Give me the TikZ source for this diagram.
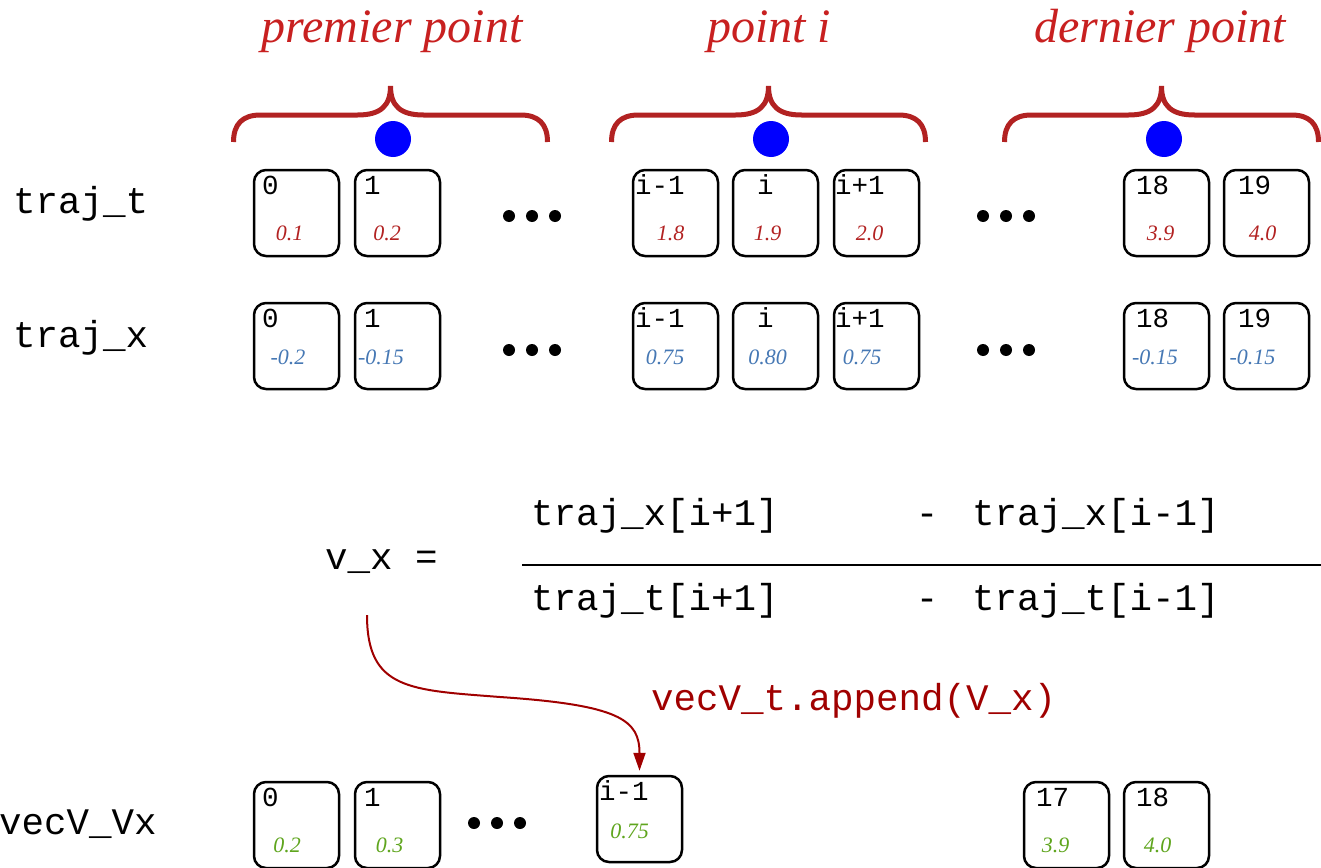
\documentclass[tikz,border=0pt]{standalone}
\usepackage{fontspec}
\setmainfont{Liberation Serif}
\setmonofont{Liberation Mono}
\usetikzlibrary{arrows.meta}
\definecolor{titlered}{RGB}{200,32,32}
\definecolor{bracered}{RGB}{178,34,34}
\definecolor{valred}{RGB}{178,34,34}
\definecolor{valblue}{RGB}{70,120,180}
\definecolor{valgreen}{RGB}{95,165,30}
\definecolor{arrowred}{RGB}{160,0,0}
\tikzset{
  cellbox/.style={draw, line width=2.5pt, rounded corners=12pt, minimum width=85pt, minimum height=86pt, inner sep=0pt},
  idxtext/.style={font=\fontsize{27.5}{28}\selectfont\ttfamily, anchor=base west, inner sep=0pt},
  valtext/.style={font=\fontsize{22}{22}\selectfont\itshape, anchor=base, inner sep=0pt},
  codetext/.style={font=\fontsize{37.5}{38}\selectfont\ttfamily, anchor=base west, inner sep=0pt},
  titletext/.style={font=\fontsize{48}{48}\selectfont\itshape, text=titlered, anchor=base, inner sep=0pt},
  bracestyle/.style={draw=bracered, line width=5pt},
  bluedot/.style={circle, fill=blue, minimum size=36pt, inner sep=0pt},
  ellipsisdot/.style={circle, fill=black, minimum size=12pt, inner sep=0pt},
}
% #1 name, #2 left, #3 top, #4 index, #5 index x, #6 value, #7 value centre x, #8 value baseline, #9 colour
\newcommand\mycell[9]{%
  \node[cellbox] (#1) at (#2+42.5,#3+43) {};
  \node[idxtext] (#1-i) at (#5+2,#3+24) {#4};
  \node[valtext,text=#9] (#1-v) at (#7,#8) {#6};
}
\newcommand\mybrace[1]{%
  \draw[bracestyle] (#1-157,142) .. controls (#1-157,124) and (#1-148,115) .. (#1-130,115)
    -- (#1-33,115) .. controls (#1-10,115) and (#1,106) .. (#1,86)
    .. controls (#1,106) and (#1+10,115) .. (#1+33,115)
    -- (#1+130,115) .. controls (#1+148,115) and (#1+157,124) .. (#1+157,142);
}
\newcommand\mydots[4]{% name, x1, y, spacing
  \node[ellipsisdot] (#1a) at (#2,#3) {};
  \node[ellipsisdot] (#1b) at (#2+#4,#3) {};
  \node[ellipsisdot] (#1c) at (#2+2*#4,#3) {};
}
\begin{document}
\begin{tikzpicture}[x=1pt,y=-1pt]
\useasboundingbox (0,0) rectangle (1321,867);

% titles
\node[titletext] (t1) at (392,43) {premier point};
\node[titletext] (t2) at (769,43) {point i};
\node[titletext] (t3) at (1160,43) {dernier point};

% braces and dots
\mybrace{390.5}
\mybrace{768.5}
\mybrace{1161.5}
\node[bluedot] (b1) at (393,139) {};
\node[bluedot] (b2) at (771,139) {};
\node[bluedot] (b3) at (1164,139) {};

% left labels
\node[codetext] (lt) at (13,213) {traj\_t};
\node[codetext] (lx) at (13,347) {traj\_x};
\node[codetext] (lv) at (-1,834) {vecV\_Vx};

% row traj_t
\mycell{a1}{254}{170}{0}{260}{0.1}{289.5}{240}{valred}
\mycell{a2}{355}{170}{1}{362}{0.2}{387}{240}{valred}
\mycell{a3}{633}{170}{i-1}{633}{1.8}{670.5}{240}{valred}
\mycell{a4}{733}{170}{i}{755}{1.9}{767.5}{240}{valred}
\mycell{a5}{834}{170}{i+1}{833}{2.0}{869.5}{240}{valred}
\mycell{a6}{1124}{170}{18}{1134}{3.9}{1160.5}{240}{valred}
\mycell{a7}{1224}{170}{19}{1236}{4.0}{1262.5}{240}{valred}
\mydots{da}{509}{216}{23}
\mydots{db}{983}{216}{23}

% row traj_x
\mycell{x1}{254}{303}{0}{260}{-0.2}{288}{364}{valblue}
\mycell{x2}{355}{303}{1}{362}{-0.15}{381}{364}{valblue}
\mycell{x3}{633}{303}{i-1}{633}{0.75}{665}{364}{valblue}
\mycell{x4}{733}{303}{i}{755}{0.80}{767.5}{364}{valblue}
\mycell{x5}{834}{303}{i+1}{833}{0.75}{862}{364}{valblue}
\mycell{x6}{1124}{303}{18}{1134}{-0.15}{1155}{364}{valblue}
\mycell{x7}{1224}{303}{19}{1236}{-0.15}{1252.5}{364}{valblue}
\mydots{dc}{509}{350}{23}
\mydots{dd}{983}{350}{23}

% formula
\node[codetext] (vx) at (325,569) {v\_x =};
\node[codetext] (n1) at (531,525) {traj\_x[i+1]};
\node[codetext, anchor=base] (nm) at (927,525) {-};
\node[codetext] (n2) at (972,525) {traj\_x[i-1]};
\draw[line width=2pt] (522,565) -- (1321,565);
\node[codetext] (d1) at (531,610) {traj\_t[i+1]};
\node[codetext, anchor=base] (dm) at (927,610) {-};
\node[codetext] (d2) at (972,610) {traj\_t[i-1]};

% append
\node[codetext, text=arrowred] (app) at (651,710) {vecV\_t.append(V\_x)};

% row vecV_Vx
\mycell{v1}{254}{782}{0}{260}{0.2}{287}{852}{valgreen}
\mycell{v2}{355}{782}{1}{362}{0.3}{389.5}{852}{valgreen}
\mycell{v3}{597}{776}{i-1}{597}{0.75}{629.5}{838}{valgreen}
\mycell{v4}{1024}{782}{17}{1034}{3.9}{1055.5}{852}{valgreen}
\mycell{v5}{1124}{782}{18}{1134}{4.0}{1157.5}{852}{valgreen}
\mydots{de}{474}{823}{23}

% arrow
\coordinate (vxs) at (367,615);
\draw[arrowred, line width=2pt, -{Triangle[length=18pt,width=12pt]}]
  (vxs) .. controls (367,690) and (410,690) .. (500,697)
        .. controls (620,705) and (639.5,720) .. ([yshift=4pt]v3.north);
\end{tikzpicture}
\end{document}
